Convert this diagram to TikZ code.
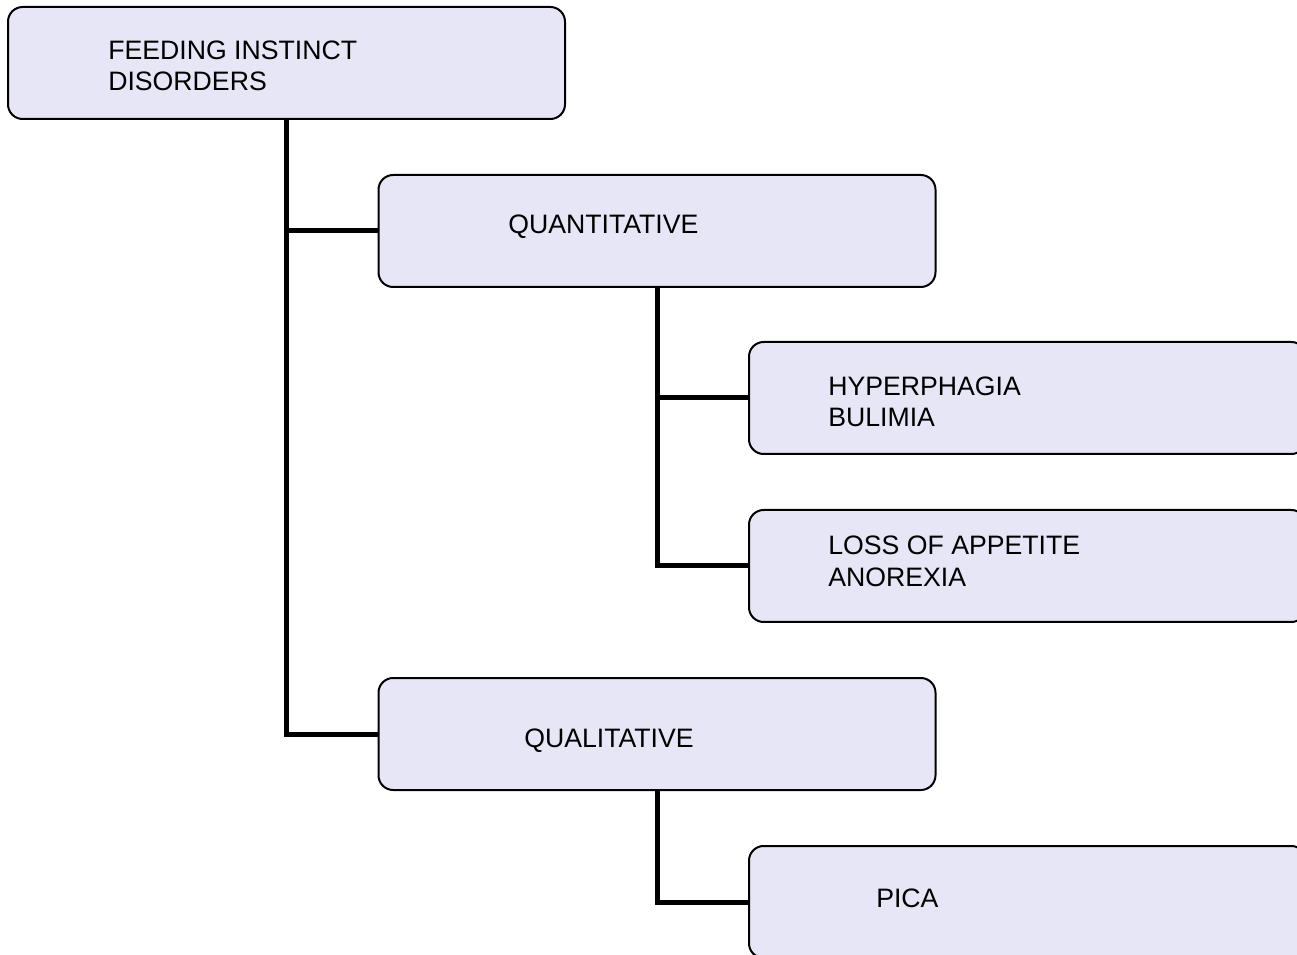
\documentclass[tikz,border=0pt]{standalone}
\usepackage{fontspec}
\setmainfont{Liberation Sans}
\usepackage{xcolor}
\definecolor{boxfill}{HTML}{E6E6F6}
\usepackage{tikz}
\usetikzlibrary{positioning}

\tikzset{
	box/.style={draw, line width=1.5pt, rounded corners=11pt, fill=boxfill,
		minimum width=417.75pt, minimum height=84pt, inner sep=0pt},
	txt/.style={anchor=base west, align=left, inner sep=0pt,
		font=\fontsize{20}{23.6}\selectfont},
	link/.style={line width=3.75pt}
}

\begin{document}
\begin{tikzpicture}[x=0.75pt, y=-0.75pt]
	\useasboundingbox (0, 0) rectangle (1297, 955);
	\clip (0, 0) rectangle (1297, 955);
	
	% boxes
	\node[box] (feed) at (286.5, 63) {};
	\node[box] (quant) at (657, 231) {};
	\node[box] (hyper) at (1027.5, 398) {};
	\node[box] (loss) at (1027.5, 566) {};
	\node[box] (qual) at (657, 734) {};
	\node[box] (pica) at (1027.5, 902) {};
	
	% labels (base anchor sits on the last line)
	\node[txt] (feedtxt) at (108, 91) {FEEDING INSTINCT\\DISORDERS};
	\node[txt] (quanttxt) at (508, 234) {QUANTITATIVE};
	\node[txt] (hypertxt) at (828, 427) {HYPERPHAGIA\\BULIMIA};
	\node[txt] (losstxt) at (828, 586) {LOSS OF APPETITE\\ANOREXIA};
	\node[txt] (qualtxt) at (524, 747) {QUALITATIVE};
	\node[txt] (picatxt) at (876, 907) {PICA};
	
	% tree lines
	\draw[link] (feed.south) -- (feed.south |- qual.west) -- (qual.west);
	\draw[link] (feed.south |- quant.west) -- (quant.west);
	\draw[link] (quant.south) -- (quant.south |- loss.west) -- (loss.west);
	\draw[link] (quant.south |- hyper.west) -- (hyper.west);
	\draw[link] (qual.south) -- (qual.south |- pica.west) -- (pica.west);
\end{tikzpicture}
\end{document}
